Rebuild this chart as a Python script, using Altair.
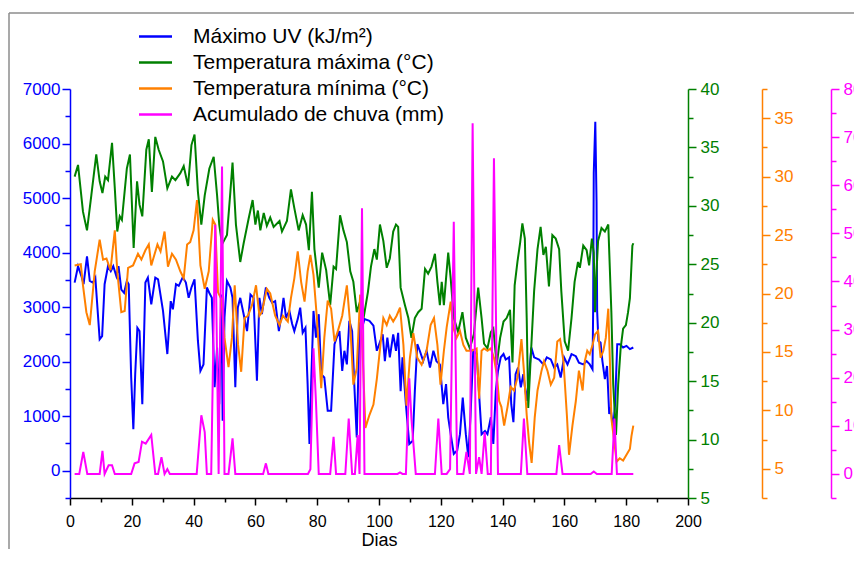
import altair as alt
import pandas as pd

FONT = "Liberation Sans"

series_labels = ["Máximo UV (kJ/m²)", "Temperatura máxima (°C)",
                 "Temperatura mínima (°C)", "Acumulado de chuva (mm)"]
series_colors = ["#0000FF", "#008000", "#FF8000", "#FF00FF"]

uv_dias = [1.5, 2.6, 3.7, 4.4, 5.5, 6.4, 7.4, 8.2, 9.6, 10.4, 11.2, 12.3, 13.2, 14.0, 15.0, 15.7,
           16.6, 17.5, 18.4, 19.0, 19.8, 20.5, 21.1, 21.8, 22.5, 23.4, 24.4, 25.2, 26.3, 27.6, 28.5,
           30.1, 31.5, 32.6, 33.3, 34.3, 35.2, 36.5, 37.5, 38.4, 39.3, 40.3, 41.4, 42.2, 43.2, 44.3,
           45.1, 45.9, 46.8, 47.6, 48.3, 49.0, 49.4, 50.0, 50.8, 51.9, 52.6, 53.5, 54.3, 55.1, 56.2,
           57.3, 58.4, 59.4, 60.5, 61.3, 62.1, 63.4, 64.5, 65.4, 66.4, 67.6, 68.3, 69.1, 69.9, 71.0,
           71.9, 72.6, 73.7, 74.5, 75.3, 76.2, 76.9, 77.5, 78.1, 78.8, 79.6, 80.5, 81.3, 82.3, 83.4,
           84.5, 85.6, 86.3, 87.2, 88.1, 88.8, 89.6, 90.4, 91.3, 92.0, 92.8, 93.7, 94.5, 95.3, 96.9,
           98.2, 99.3, 101.2, 101.9, 102.7, 103.5, 104.6, 105.5, 106.2, 107.0, 107.6, 108.7, 109.8,
           110.9, 111.6, 112.4, 113.2, 114.3, 115.4, 116.5, 117.6, 118.6, 119.7, 120.8, 121.7, 122.4,
           123.2, 124.2, 125.3, 126.2, 127.1, 128.1, 128.9, 129.6, 130.5, 131.6, 132.4, 133.2, 134.3,
           135.1, 136.2, 137.0, 137.8, 138.5, 139.4, 140.3, 141.0, 142.1, 142.8, 143.5, 144.2, 145.0,
           145.9, 146.7, 147.8, 148.6, 149.3, 150.2, 151.8, 153.2, 154.3, 155.6, 156.7, 157.7, 158.8,
           159.9, 161.0, 162.3, 163.7, 164.7, 166.1, 167.2, 168.2, 169.1, 169.3, 169.5, 170.0, 170.4,
           170.6, 171.0, 171.7, 172.3, 173.1, 173.8, 174.5, 174.9, 175.8, 176.4, 177.1, 177.9, 179.0,
           180.1, 181.2, 182.3]
uv_vals = [3450, 3750, 3570, 3420, 3930, 3480, 3450, 3540, 2410, 2470, 3420, 3750, 3660, 3750, 3570, 3750,
           3320, 3260, 3480, 3420, 1710, 760, 1770, 2620, 2560, 1220, 3450, 3540, 3050, 3540, 3510,
           2930, 2140, 3110, 2960, 3420, 3390, 3550, 3450, 3170, 3360, 3510, 2380, 1830, 1950, 3360,
           3260, 3170, 1530, 2260, 1220, 3230, 915, 2810, 3480, 3360, 3170, 1530, 2990, 3170, 2870,
           2560, 3230, 3170, 1650, 3170, 2870, 3360, 3170, 3080, 3110, 2560, 2810, 3170, 2810, 2930,
           2690, 2560, 2780, 2990, 2530, 2620, 1590, 490, 1710, 2930, 2440, 2870, 1770, 1710, 1100,
           1100, 2320, 2440, 2560, 1830, 2200, 1950, 2750, 2560, 1590, 610, 2690, 2620, 2780, 2750,
           2660, 2200, 2500, 2010, 2440, 2080, 2500, 2200, 2530, 1460, 2080, 1220, 490,
           550, 1460, 2320, 2200, 2010, 2200, 1890, 2200, 2010, 1950, 1220, 1590, 980,
           670, 310, 370, 670, 1340, 670, 250, 980, 2200, 2140, 1400, 670, 730,
           670, 980, 490, 1460, 1830, 2080, 2140, 2040, 2080, 1220, 890, 1770, 1890,
           1530, 1770, 1280, 1770, 2260, 2080, 2040, 1950, 2080, 2040, 1890, 1950, 1710,
           2080, 1950, 2140, 2100, 1980, 1950, 2010, 1950, 1860, 2930, 5460, 6400, 4940,
           2930, 2380, 2350, 2010, 1680, 1920, 1040, 1160, 790, 1220, 2320, 2320, 2260,
           2290, 2230, 2260]

tmax_dias = [1.5, 2.6, 4.2, 5.5, 6.9, 8.5, 9.6, 10.5, 11.4, 12.3, 13.6, 14.5, 15.3, 16.1, 16.8, 18.4,
             19.4, 20.6, 21.7, 22.5, 23.4, 24.7, 25.5, 26.5, 27.6, 28.7, 30.1, 31.5, 33.0, 34.1, 35.7,
             36.8, 38.2, 39.3, 40.3, 41.4, 42.5, 43.6, 45.1, 46.5, 47.6, 48.3, 49.2, 50.8, 51.9, 52.6,
             53.7, 55.1, 56.2, 57.8, 59.1, 60.0, 60.8, 61.6, 62.7, 63.7, 64.8, 65.9, 67.8, 68.6, 70.2,
             71.5, 72.6, 74.0, 75.3, 76.4, 77.3, 78.3, 79.1, 80.5, 81.6, 82.9, 84.2, 85.3, 86.1, 87.4,
             88.5, 89.6, 90.7, 91.7, 92.8, 94.2, 95.0, 96.4, 97.4, 98.5, 99.3, 100.3, 101.4, 102.5,
             103.5, 104.6, 105.5, 106.2, 107.0, 108.4, 109.5, 110.5, 111.6, 112.7, 113.8, 114.9, 115.9,
             117.0, 118.1, 118.9, 119.7, 120.3, 121.0, 121.7, 122.4, 123.2, 124.2, 125.6, 127.0, 128.1,
             129.4, 130.7, 132.1, 133.2, 134.0, 135.1, 136.2, 137.0, 138.1, 139.2, 140.3, 141.3, 142.4,
             143.2, 143.9, 144.8, 145.7, 146.4, 147.2, 147.8, 148.3, 149.1, 150.2, 151.3, 152.3, 153.2,
             154.0, 155.0, 156.1, 157.2, 158.3, 159.0, 160.1, 161.2, 162.3, 163.3, 164.4, 165.0, 166.1,
             167.2, 168.0, 168.9, 169.5, 169.9, 170.4, 170.9, 172.0, 173.1, 174.2, 175.2, 175.8, 176.7,
             177.4, 178.2, 179.0, 179.9, 180.6, 181.2, 182.0, 182.3]
tmax_vals = [32.5, 33.5, 29.5, 27.9, 30.9, 34.4, 32.1, 31.1, 32.5, 32.2, 35.4, 31.5, 27.8, 29.1, 28.8, 33.2,
             34.4, 26.4, 32.1, 30.1, 29.1, 34.8, 35.7, 31.2, 35.9, 34.8, 33.8, 31.5, 32.5, 32.2, 32.8,
             33.4, 31.7, 35.2, 36.1, 31.2, 28.4, 30.9, 33.2, 34.2, 30.9, 28.4, 26.7, 27.5, 31.2, 33.7,
             28.4, 25.2, 26.8, 28.9, 30.5, 28.4, 29.6, 27.9, 29.4, 28.3, 29.0, 28.2, 28.7, 27.8, 28.7,
             31.4, 29.8, 27.9, 29.2, 28.4, 26.2, 31.2, 26.3, 23.0, 26.0, 24.5, 21.5, 24.8, 24.6, 29.2,
             27.9, 26.9, 24.4, 23.5, 20.9, 22.1, 20.4, 22.6, 24.8, 26.3, 25.4, 28.4, 27.0, 24.7,
             25.5, 27.8, 28.4, 28.2, 23.0, 21.5, 20.4, 18.7, 20.4, 20.9, 21.2, 24.6, 24.2,
             24.8, 25.9, 23.5, 21.5, 23.5, 21.5, 23.8, 26.0, 23.8, 20.4, 19.2, 20.9, 18.7,
             17.8, 19.0, 23.0, 20.4, 18.2, 17.8, 19.2, 19.5, 16.4, 18.7, 20.1, 20.4, 21.1,
             16.6, 23.2, 25.2, 26.9, 28.5, 27.2, 20.4, 12.7, 17.0, 22.7, 26.3, 28.2, 25.8,
             26.5, 23.1, 27.5, 27.2, 26.3, 22.7, 18.4, 17.6, 20.4, 23.5, 25.2, 24.7, 26.6,
             26.2, 24.9, 27.2, 26.0, 20.9, 24.4, 27.0, 28.1, 27.8, 28.4, 20.9, 14.7, 10.4,
             14.7, 17.8, 19.5, 19.8, 20.9, 22.1, 26.6, 26.8]

tmin_dias = [1.5, 3.5, 4.2, 5.3, 6.4, 8.0, 9.6, 10.7, 11.8, 13.1, 14.5, 15.3, 16.6, 17.7, 18.8, 20.4,
             22.0, 23.1, 24.4, 25.5, 26.3, 28.3, 29.3, 30.6, 31.7, 33.0, 34.3, 35.7, 36.8, 37.9, 38.9,
             40.0, 41.1, 42.2, 43.6, 44.9, 46.2, 47.0, 47.9, 49.0, 50.0, 51.3, 52.4, 53.3, 54.4, 55.4,
             56.5, 57.6, 58.9, 60.2, 61.3, 62.1, 63.7, 64.8, 66.4, 67.8, 68.9, 70.5, 71.5, 72.6, 73.7,
             74.8, 75.9, 76.9, 77.8, 78.8, 79.9, 81.3, 82.3, 83.4, 84.5, 85.6, 86.7, 88.1, 89.6, 90.7,
             91.7, 92.8, 93.9, 94.8, 95.6, 96.9, 98.2, 99.3, 100.7, 101.4, 102.5, 103.5, 104.6, 105.7,
             106.8, 107.9, 108.9, 110.0, 111.1, 112.4, 113.8, 115.4, 116.7, 117.8, 118.9, 119.9, 121.0,
             121.9, 123.2, 124.0, 125.1, 126.2, 127.3, 128.3, 130.0, 131.6, 132.4, 133.2, 134.0, 135.1,
             136.2, 137.2, 138.1, 138.9, 139.6, 140.5, 141.6, 142.6, 143.7, 144.8, 146.1, 146.9, 147.8,
             148.6, 149.4, 150.4, 151.3, 152.6, 153.4, 154.5, 155.6, 156.7, 157.7, 158.6, 159.7, 160.8,
             161.5, 162.6, 163.7, 164.7, 165.9, 166.6, 167.4, 168.2, 169.1, 169.9, 170.9, 171.7, 172.6,
             173.4, 174.2, 174.7, 175.2, 176.0, 176.9, 177.9, 179.0, 180.1, 181.2, 181.7, 182.3]
tmin_vals = [22.4, 22.5, 20.7, 18.4, 17.3, 21.9, 24.6, 22.9, 23.0, 22.0, 25.4, 21.9, 18.4, 18.5, 22.2, 22.4,
             23.4, 22.9, 23.7, 24.2, 22.4, 24.2, 23.6, 25.3, 22.3, 23.4, 22.9, 21.9, 21.3, 24.2, 24.4,
             25.4, 28.0, 22.4, 20.4, 21.9, 26.3, 25.9, 20.1, 19.5, 16.2, 13.7, 16.2, 20.7, 15.6, 13.3,
             17.9, 18.1, 19.0, 20.7, 18.1, 18.4, 20.4, 20.0, 18.1, 17.3, 18.1, 17.6, 19.6, 21.3, 23.6,
             21.0, 19.3, 21.9, 23.3, 21.6, 17.9, 11.9, 16.2, 19.4, 18.7, 15.9, 16.8, 18.1, 20.7, 17.3,
             12.2, 13.6, 19.9, 14.2, 8.5, 9.6, 10.5, 12.7, 16.2, 17.9, 17.3, 18.1, 17.6, 18.1,
             18.8, 15.6, 10.4, 14.5, 16.6, 14.5, 13.9, 15.1, 17.3, 17.9, 15.6, 12.2, 15.1,
             17.1, 19.3, 17.1, 16.2, 16.8, 15.6, 15.1, 15.1, 15.3, 11.0, 15.1, 15.3, 15.1,
             15.3, 14.5, 13.1, 10.8, 10.3, 8.7, 10.3, 12.0, 11.7, 12.8, 16.1, 13.4, 9.6,
             7.2, 5.5, 9.4, 11.7, 13.4, 14.2, 13.4, 12.2, 12.8, 15.9, 16.1, 14.2, 9.6,
             6.2, 8.7, 10.8, 13.4, 11.7, 14.2, 15.1, 14.8, 15.6, 16.5, 16.8, 14.5, 15.1,
             16.2, 18.7, 14.5, 9.3, 7.6, 5.6, 5.9, 5.7, 6.2, 6.7, 7.8, 8.7]

chuva_dias = [1.5, 3.0, 4.3, 5.6, 9.6, 10.5, 11.2, 12.5, 13.6, 14.5, 19.8, 20.9, 22.2, 23.3, 24.5, 26.3,
              27.6, 28.5, 29.6, 30.6, 31.5, 32.3, 41.0, 42.5, 43.6, 44.3, 45.7, 47.0, 48.1, 49.2, 50.0,
              51.3, 52.6, 53.5, 62.5, 63.4, 64.2, 77.0, 77.8, 78.8, 79.6, 80.5, 84.2, 85.3, 86.1, 89.1,
              90.2, 91.3, 92.2, 93.1, 93.7, 94.5, 95.3, 106.0, 106.8, 107.6, 108.7, 109.8, 110.5, 111.9,
              118.1, 119.2, 120.3, 121.9, 123.0, 124.2, 125.3, 127.3, 128.3, 129.4, 130.3, 131.4, 132.4,
              133.2, 134.2, 135.2, 136.2, 137.2, 138.5, 145.9, 146.9, 148.0, 157.4, 158.3, 159.4, 168.5,
              169.5, 170.5, 175.3, 176.2, 177.0, 182.3]
chuva_vals = [0, 0, 4.6, 0, 0, 4.8, 0, 1.8, 1.8, 0, 0, 2.2, 2.5, 6.7, 6.3, 8.1,
              0, 0, 3.5, 0, 1.0, 0, 0, 12.2, 8.7, 0, 0, 51.8, 0, 63.9, 0,
              0, 7.4, 0, 0, 2.2, 0, 0, 1.0, 26.1, 15.0, 0, 0, 7.7, 0, 0,
              11.5, 0, 0, 8.1, 0, 55.2, 0, 0, 0.3, 0, 0, 19.9, 11.5, 0,
              0, 11.5, 0, 0, 1.0, 52.4, 0, 0, 4.6, 0, 72.9, 0, 3.5,
              0, 8.7, 0, 0, 65.6, 0, 0, 11.5, 0, 0, 6.0, 0, 0,
              0.5, 0, 0, 11.5, 0, 0]

x_ticks = list(range(0, 201, 20))
x_minor = list(range(10, 200, 20))


def frame(d, v, s):
    return pd.DataFrame({"dia": d, "valor": v, "serie": s})


cor = alt.Color(
    "serie:N",
    scale=alt.Scale(domain=series_labels, range=series_colors),
    legend=alt.Legend(title=None, orient="none", legendX=75, legendY=-63,
                      symbolType="M-3.3,0H3.3", symbolSize=100, symbolStrokeWidth=2.5,
                      labelFont=FONT, labelFontSize=21, labelColor="black",
                      labelOffset=27, rowPadding=4, labelLimit=400),
)

xscale = alt.Scale(domain=[0, 200], nice=False, zero=False)

x_major_axis = alt.Axis(orient="bottom", values=x_ticks, tickSize=7, tickWidth=1.5,
                        tickColor="black", domainColor="black", domainWidth=1.5,
                        labelColor="black", labelFont=FONT, labelFontSize=16, labelPadding=8,
                        labelFlush=False, grid=False, title="Dias", titleFont=FONT,
                        titleFontSize=18, titleFontWeight="normal", titleColor="black",
                        titleY=47, titleBaseline="alphabetic")
x_minor_axis = alt.Axis(orient="bottom", values=x_minor, tickSize=4, tickWidth=1.5,
                        tickColor="black", domain=False, labels=False, grid=False, title=None)


def yaxis(offset, values, color, major, pad=4, orient="right"):
    if major:
        return alt.Axis(orient=orient, offset=offset, values=values, format="d", tickSize=8,
                        tickWidth=1.5, tickColor=color, domainColor=color, domainWidth=1.5,
                        labelColor=color, labelFont=FONT, labelFontSize=17, labelPadding=pad,
                        labelOverlap=False, labelFlush=False, grid=False, title=None)
    return alt.Axis(orient=orient, offset=offset, values=values, tickSize=5, tickWidth=1.5,
                    tickColor=color, domain=False, labels=False, grid=False, title=None)


def layer(df, dom, yax, xax, visible=True):
    ys = alt.Scale(domain=dom, nice=False, zero=False)
    x = alt.X("dia:Q", scale=xscale, axis=xax)
    y = alt.Y("valor:Q", scale=ys, axis=yax)
    if visible:
        return alt.Chart(df).mark_line(strokeWidth=2).encode(x=x, y=y, color=cor)
    return alt.Chart(df).mark_line(strokeOpacity=0).encode(x=x, y=y)


uv_df = frame(uv_dias, uv_vals, series_labels[0])
tmax_df = frame(tmax_dias, tmax_vals, series_labels[1])
tmin_df = frame(tmin_dias, tmin_vals, series_labels[2])
chuva_df = frame(chuva_dias, chuva_vals, series_labels[3])

uv_dom, tmax_dom, tmin_dom, chuva_dom = [-500, 7000], [5, 40], [2.5, 37.5], [-5, 80]

layers = [
    layer(uv_df, uv_dom, yaxis(0, list(range(0, 7001, 1000)), "#0000FF", True, 2, "left"), x_major_axis),
    layer(tmax_df, tmax_dom, yaxis(0, list(range(5, 41, 5)), "#008000", True), None),
    layer(tmin_df, tmin_dom, yaxis(74, list(range(5, 36, 5)), "#FF8000", True), None),
    layer(chuva_df, chuva_dom, yaxis(143, list(range(0, 81, 10)), "#FF00FF", True), None),
    layer(uv_df, uv_dom, yaxis(0, list(range(-500, 7000, 1000)), "#0000FF", False, orient="left"),
          x_minor_axis, False),
    layer(tmax_df, tmax_dom, yaxis(0, [7.5 + 5 * i for i in range(7)], "#008000", False), None, False),
    layer(tmin_df, tmin_dom, yaxis(74, [2.5 + 5 * i for i in range(8)], "#FF8000", False), None, False),
    layer(chuva_df, chuva_dom, yaxis(143, list(range(-5, 80, 10)), "#FF00FF", False), None, False),
]

one = pd.DataFrame({"a": [0]})
borda_topo = alt.Chart(one).mark_rule(color="#8c8c8c", strokeWidth=1.5).encode(
    x=alt.value(-61), x2=alt.value(900), y=alt.value(-76))
borda_esq = alt.Chart(one).mark_rule(color="#8c8c8c", strokeWidth=1.5).encode(
    x=alt.value(-61), y=alt.value(-76), y2=alt.value(700))

chart = (
    alt.layer(borda_topo, borda_esq, *layers)
    .resolve_scale(x="independent", y="independent")
    .properties(width=618, height=409,
                padding={"left": 62, "top": 81, "right": 166, "bottom": 51},
                autosize=alt.AutoSizeParams(type="none"))
    .configure_view(stroke=None)
)

chart.save("out.html", embed_options={"renderer": "svg", "actions": False})
